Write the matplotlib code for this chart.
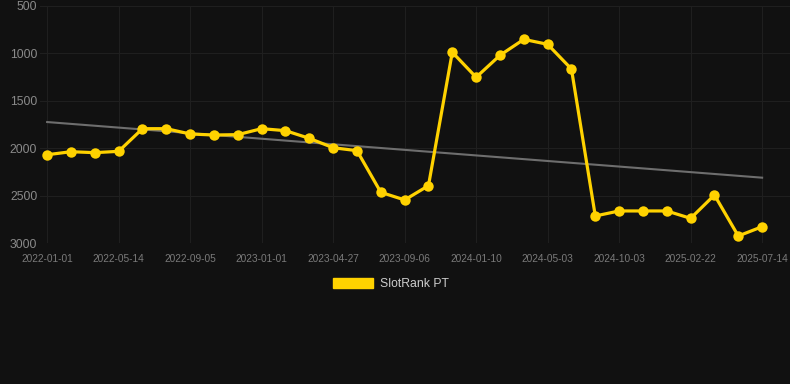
import numpy as np
import matplotlib
matplotlib.use("Agg")
import matplotlib.pyplot as plt
from matplotlib.patches import Patch

plt.rcParams['font.family'] = ['Liberation Sans', 'DejaVu Sans']

# ranks, one per sample (evenly spaced on the axis)
rank_values = [2069, 2037, 2047, 2033, 1794, 1794, 1850, 1861, 1857, 1794,
               1815, 1896, 1995, 2026, 2465, 2546, 2395, 988, 1252, 1020,
               852, 904, 1165, 2715, 2662, 2662, 2662, 2740, 2494, 2926, 2828]
# labels shown every third sample
tick_labels = ['2022-01-01', '2022-05-14', '2022-09-05', '2023-01-01',
               '2023-04-27', '2023-09-06', '2024-01-10', '2024-05-03',
               '2024-10-03', '2025-02-22', '2025-07-14']
trend_start = 1724
trend_end = 2311
series_name = 'SlotRank PT'

bg = '#111111'
gold = '#FFD200'

fig = plt.figure(figsize=(7.9, 3.84), dpi=100, facecolor=bg)
ax = fig.add_axes([40 / 790, 1 - 243 / 384, 750 / 790, 237 / 384])
ax.set_facecolor(bg)

x = np.arange(len(rank_values))
ax.plot([x[0], x[-1]], [trend_start, trend_end], color='#6e6e6e', lw=1.5, zorder=2)
ax.plot(x, rank_values, color=gold, lw=2.3, marker='o', markersize=7.5,
        markeredgewidth=0, zorder=3)

ax.set_ylim(3000, 500)
ax.set_yticks([500, 1000, 1500, 2000, 2500, 3000])
ax.set_xlim(-0.3, len(rank_values) - 1 + 1.17)
ax.set_xticks(x[::3])
ax.set_xticklabels(tick_labels)

ax.grid(True, color='#1f1f1f', lw=0.8)
ax.set_axisbelow(True)
for s in ax.spines.values():
    s.set_visible(False)
ax.tick_params(axis='y', length=0, pad=2, labelsize=8.8, labelcolor='#8a8a8a')
ax.tick_params(axis='x', length=0, pad=8, labelsize=7.3, labelcolor='#7a7a7a')

fig.legend(handles=[Patch(facecolor=gold, edgecolor=gold)], labels=[series_name],
           loc='center', bbox_to_anchor=(391 / 790, 1 - 284 / 384),
           frameon=False, fontsize=8.8, labelcolor='#cccccc',
           handlelength=3.3, handleheight=0.9, handletextpad=0.6)

fig.savefig('out.png', dpi=100, facecolor=bg)
